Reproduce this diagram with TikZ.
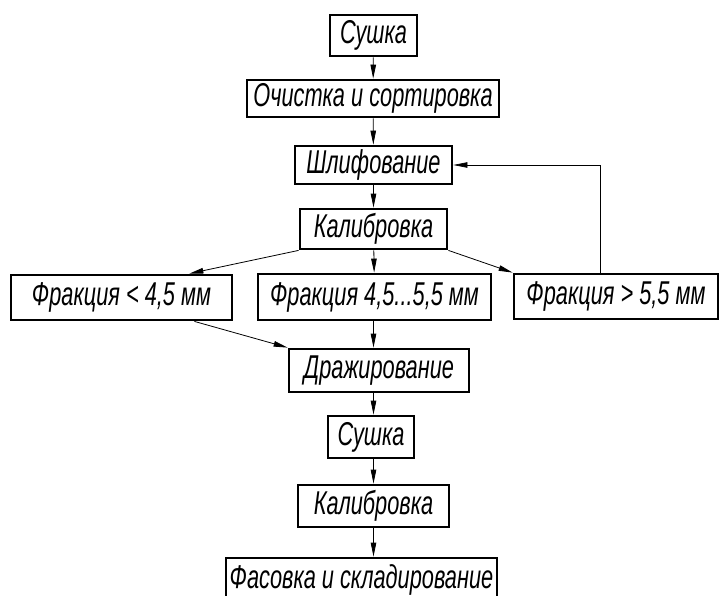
\documentclass[tikz,border=0pt]{standalone}
\usepackage{fontspec}
\setmainfont{Liberation Sans}[FakeStretch=0.66]
\usetikzlibrary{arrows.meta,positioning}

\begin{document}
\begin{tikzpicture}[x=1pt,y=-1pt]
	\tikzstyle{stage}=[draw,line width=2.8pt,inner sep=0pt,font=\fontsize{33}{36}\selectfont\itshape]
	\tikzstyle{flow}=[line width=0.8pt,arrows={-Triangle[length=14pt,width=5.5pt]}]
	\tikzstyle{back}=[line width=0.6pt,arrows={-Triangle[length=14pt,width=5.5pt]}]

	\useasboundingbox (0,0) rectangle (719,596);

	% main chain
	\node[stage,minimum width=87pt,minimum height=41pt] (sushkaA) at (373.5,35.5) {Сушка};
	\node[stage,minimum width=252pt,minimum height=37pt] (ochistka) at (373,98.5) {Очистка и сортировка};
	\node[stage,minimum width=157pt,minimum height=38pt] (shlif) at (373.5,165) {Шлифование};
	\node[stage,minimum width=147pt,minimum height=40pt] (kalibA) at (373.5,229) {Калибровка};

	% fractions
	\node[stage,minimum width=221pt,minimum height=45pt] (frSmall) at (121.5,297.5) {Фракция < 4,5 мм};
	\node[stage,minimum width=233pt,minimum height=46pt] (frMid) at (374.5,297) {Фракция 4,5...5,5 мм};
	\node[stage,minimum width=204pt,minimum height=45pt] (frBig) at (616,296.5) {Фракция > 5,5 мм};

	\node[stage,minimum width=180pt,minimum height=43pt] (drazh) at (379,370.5) {Дражирование};
	\node[stage,minimum width=86pt,minimum height=42pt] (sushkaB) at (371,437) {Сушка};
	\node[stage,minimum width=151pt,minimum height=42pt] (kalibB) at (373.5,506) {Калибровка};
	\node[stage,minimum width=271pt,minimum height=44pt] (fasovka) at (361.5,580) {Фасовка и складирование};

	\coordinate (frSmallIn) at ([xshift=-44pt]frSmall.north east);
	\coordinate (frSmallOut) at ([xshift=-39pt]frSmall.south east);
	\coordinate (backTurn) at (600,165);

	\draw[flow] (sushkaA) -- (ochistka);
	\draw[flow] (ochistka) -- (shlif);
	\draw[flow] (shlif) -- (kalibA);
	\draw[flow] (kalibA) -- (frMid);
	\draw[flow] (kalibA.south west) -- (frSmallIn);
	\draw[flow] (kalibA.south east) -- (frBig.north west);
	\draw[flow] (frMid.south -| kalibA) -- (drazh.north -| kalibA);
	\draw[flow] (frSmallOut) -- (drazh.north west);
	\draw[flow] (drazh.south -| kalibA) -- (sushkaB.north -| kalibA);
	\draw[flow] (sushkaB.south -| kalibA) -- (kalibB.north -| kalibA);
	\draw[flow] (kalibB) -- (fasovka.north -| kalibB);

	% return of the coarse fraction
	\draw[back] (frBig.north -| backTurn) -- (backTurn) -- (shlif.east);
\end{tikzpicture}
\end{document}
